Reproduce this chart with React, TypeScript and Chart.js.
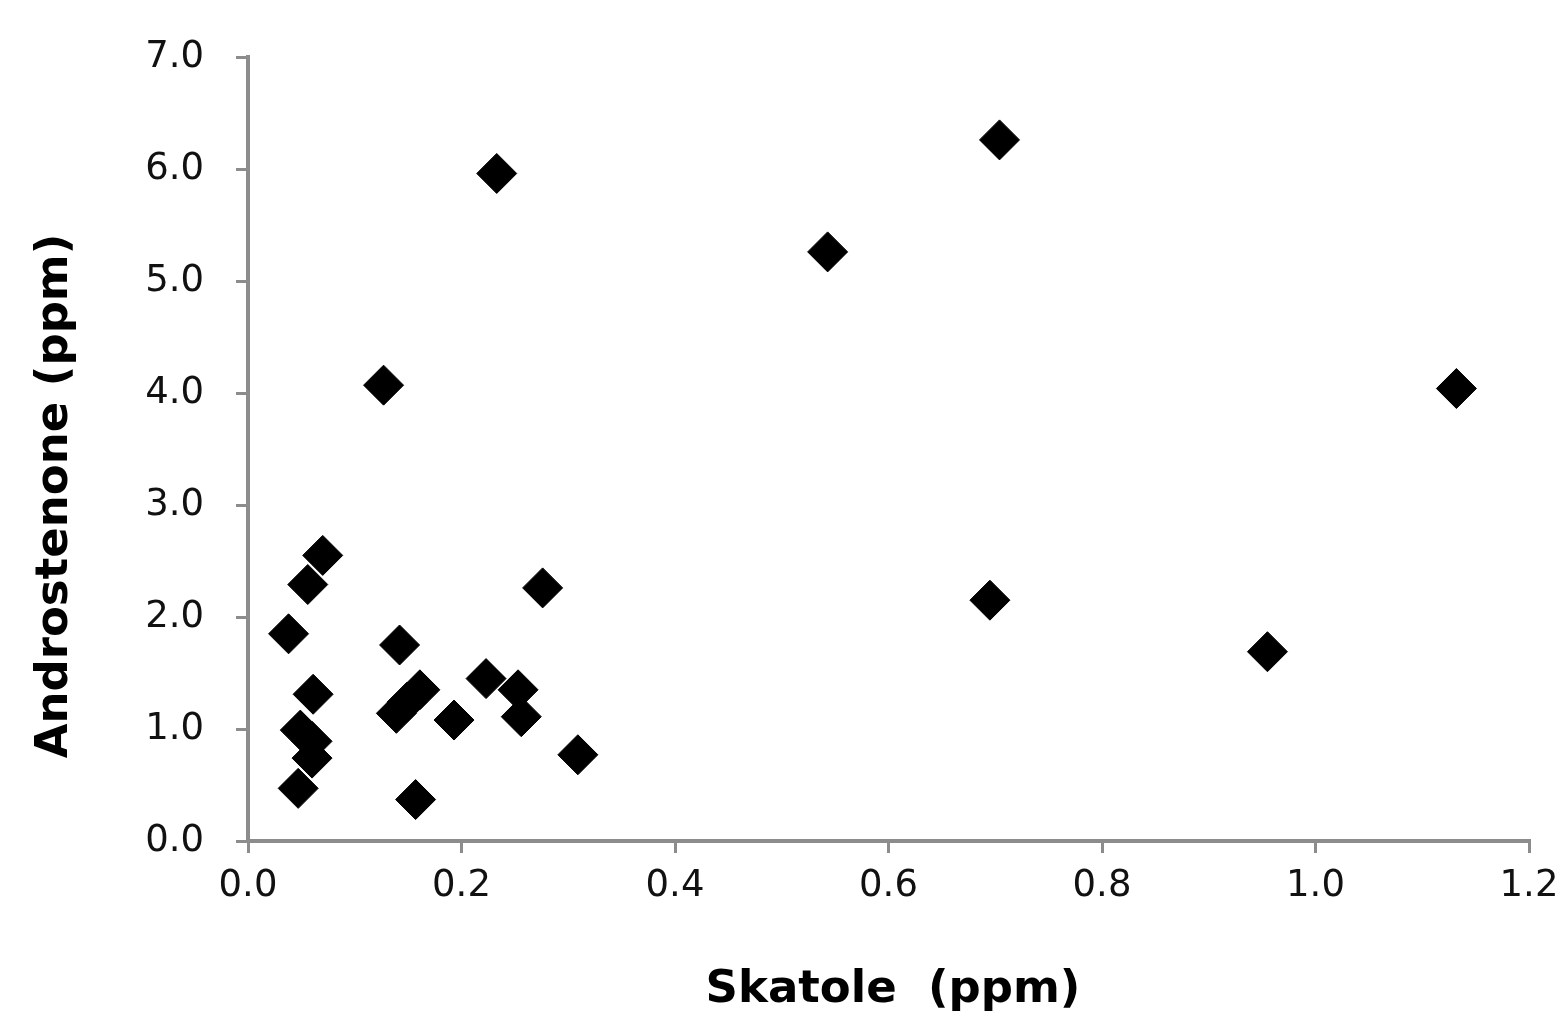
import React, { useEffect, useRef } from "react";
import { Chart, registerables } from "chart.js";

Chart.register(...registerables);

const skatole = [0.070, 0.056, 0.038, 0.142, 0.276, 0.061, 0.139, 0.149, 0.161, 0.193, 0.223, 0.253, 0.256, 0.309, 0.157, 0.049, 0.060, 0.060, 0.047, 0.127, 0.233, 0.543, 0.704, 0.695, 0.955, 1.132];
const androstenone = [2.55, 2.29, 1.85, 1.75, 2.26, 1.31, 1.14, 1.24, 1.35, 1.08, 1.45, 1.35, 1.11, 0.77, 0.37, 0.99, 0.89, 0.74, 0.47, 4.07, 5.96, 5.26, 6.26, 2.15, 1.69, 4.04];

const xTitle = "Skatole  (ppm)";
const yTitle = "Androstenone (ppm)";
const xMin = 0, xMax = 1.2, xStep = 0.2;
const yMin = 0, yMax = 7, yStep = 1;

const W = 1561, H = 1017;

export default function App() {
  const ref = useRef<HTMLCanvasElement>(null);
  useEffect(() => {
    if (!ref.current) return;
    const titlesPlugin = {
      id: "axisTitlesCustom",
      afterDraw(chart: any) {
        const ctx = chart.ctx;
        ctx.save();
        ctx.fillStyle = "#000";
        ctx.font = 'bold 45px "DejaVu Sans"';
        ctx.textAlign = "center";
        ctx.textBaseline = "middle";
        ctx.fillText(xTitle, 893, 990);
        ctx.translate(55, 496);
        ctx.rotate(-Math.PI / 2);
        ctx.fillText(yTitle, 0, 0);
        ctx.restore();
      },
    };
    const axisColor = "#8c8c8c";
    const chart = new Chart(ref.current, {
      type: "scatter",
      data: {
        datasets: [
          {
            data: skatole.map((x, i) => ({ x, y: androstenone[i] })),
            pointStyle: "rectRot",
            pointRadius: 20,
            pointBackgroundColor: "#000",
            pointBorderColor: "#000",
            pointBorderWidth: 1,
          },
        ],
      },
      options: {
        responsive: false,
        animation: false,
        layout: { padding: { top: 57, right: 32, left: 0, bottom: 0 } },
        plugins: { legend: { display: false }, tooltip: { enabled: false } },
        scales: {
          x: {
            type: "linear",
            min: xMin,
            max: xMax,
            ticks: {
              stepSize: xStep,
              callback: (v: any) => Number(v).toFixed(1),
              font: { family: "DejaVu Sans", size: 37 },
              color: "#111",
              padding: 11,
            },
            grid: { drawOnChartArea: false, drawTicks: true, tickLength: 12, color: axisColor, lineWidth: 3 },
            border: { display: true, color: axisColor, width: 4 },
            afterFit: (s: any) => {
              s.height = 176;
              s.paddingLeft = 0;
              s.paddingRight = 0;
            },
          },
          y: {
            type: "linear",
            min: yMin,
            max: yMax,
            ticks: {
              stepSize: yStep,
              callback: (v: any) => Number(v).toFixed(1),
              font: { family: "DejaVu Sans", size: 37 },
              color: "#111",
              padding: 32,
            },
            grid: { drawOnChartArea: false, drawTicks: true, tickLength: 12, color: axisColor, lineWidth: 3 },
            border: { display: true, color: axisColor, width: 4 },
            afterFit: (s: any) => {
              s.width = 248;
              s.paddingTop = 0;
              s.paddingBottom = 0;
            },
          },
        },
      },
      plugins: [titlesPlugin],
    });
    return () => chart.destroy();
  }, []);
  return (
    <div style={{ position: "fixed", left: 0, top: 0, width: W, height: H, background: "#fff" }}>
      <canvas ref={ref} width={W} height={H} />
    </div>
  );
}
